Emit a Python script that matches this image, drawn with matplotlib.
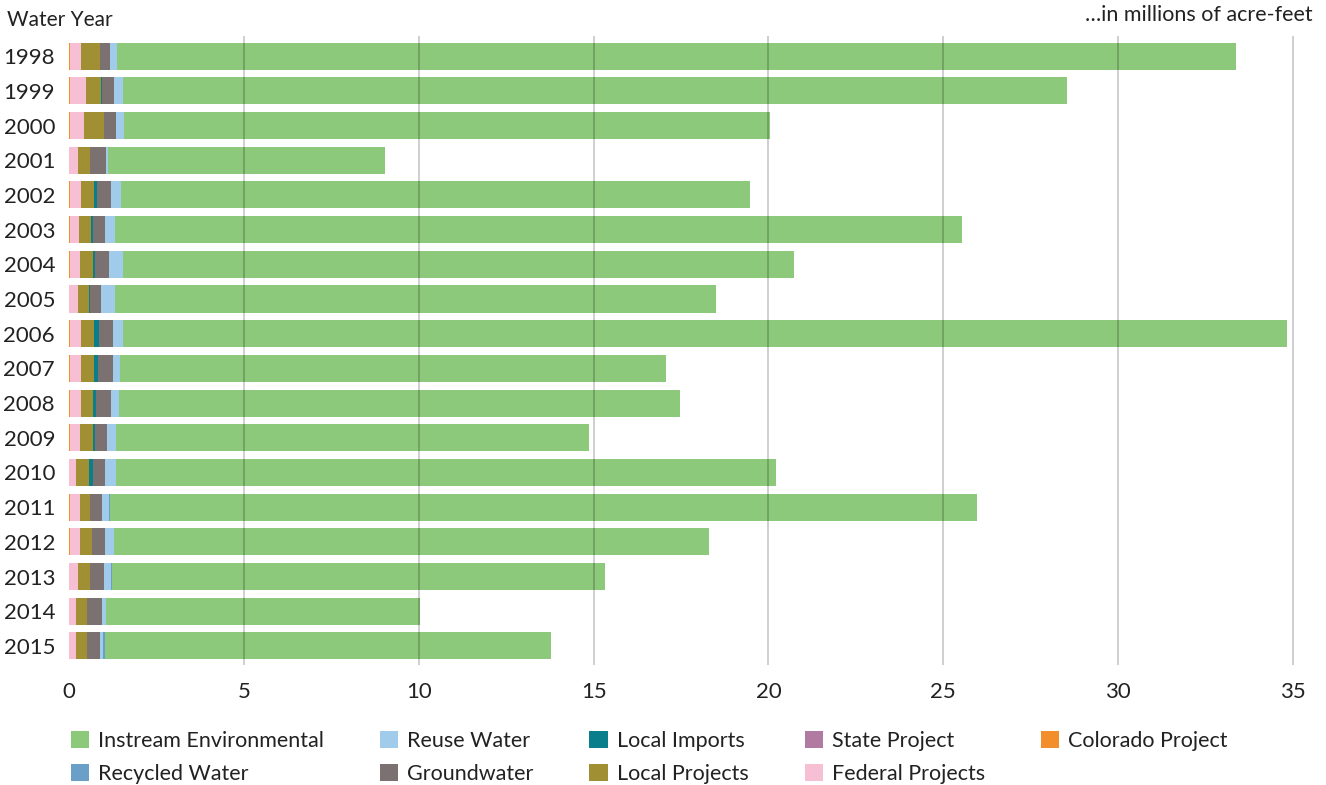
import matplotlib.pyplot as plt
import numpy as np

plt.rcParams['font.family'] = ['Lato', 'DejaVu Sans']

# 水年ごとのデータ（百万エーカーフィート）
years = [str(y) for y in range(1998, 2016)]
colorado = [0.03, 0.03, 0.03, 0.0, 0.03, 0.03, 0.03, 0.0, 0.03, 0.03,
            0.03, 0.03, 0.0, 0.03, 0.03, 0.0, 0.0, 0.0]
federal = [0.31, 0.46, 0.40, 0.26, 0.31, 0.26, 0.29, 0.26, 0.31, 0.31,
           0.31, 0.29, 0.20, 0.29, 0.29, 0.26, 0.20, 0.20]
state = [0.0] * 18
local_projects = [0.54, 0.43, 0.57, 0.34, 0.37, 0.34, 0.37, 0.31, 0.37, 0.37,
                  0.34, 0.37, 0.37, 0.29, 0.34, 0.34, 0.31, 0.31]
local_imports = [0.0, 0.03, 0.0, 0.0, 0.09, 0.06, 0.06, 0.03, 0.14, 0.11,
                 0.09, 0.06, 0.11, 0.0, 0.0, 0.0, 0.0, 0.0]
groundwater = [0.29, 0.34, 0.34, 0.46, 0.40, 0.34, 0.40, 0.31, 0.40, 0.43,
               0.43, 0.34, 0.34, 0.34, 0.37, 0.40, 0.43, 0.37]
reuse = [0.20, 0.26, 0.23, 0.06, 0.29, 0.29, 0.40, 0.40, 0.29, 0.20,
         0.23, 0.26, 0.31, 0.20, 0.26, 0.20, 0.11, 0.09]
recycled = [0.0, 0.0, 0.0, 0.0, 0.0, 0.0, 0.0, 0.0, 0.0, 0.0,
            0.0, 0.0, 0.0, 0.03, 0.0, 0.03, 0.0, 0.06]
instream = [32.00, 27.00, 18.48, 7.92, 17.98, 24.22, 19.19, 17.18, 33.29, 15.61,
            16.04, 13.53, 18.88, 24.77, 17.01, 14.10, 8.98, 12.75]

# 左から積み上げる順
series = [
    ("Colorado Project", colorado, "#f28e2b"),
    ("Federal Projects", federal, "#f6bfd4"),
    ("State Project", state, "#b07aa1"),
    ("Local Projects", local_projects, "#a08f33"),
    ("Local Imports", local_imports, "#0b7e8c"),
    ("Groundwater", groundwater, "#7b7170"),
    ("Reuse Water", reuse, "#a1cbea"),
    ("Recycled Water", recycled, "#6a9fc8"),
    ("Instream Environmental", instream, "#8dc97b"),
]

fig = plt.figure(figsize=(13.26, 7.85), dpi=100)
ax = fig.add_axes([69 / 1326, 1 - 665 / 785, 1252 / 1326, 629 / 785])

y = np.arange(len(years))
left = np.zeros(len(years))
handles = {}
for name, vals, color in series:
    vals = np.array(vals)
    bars = ax.barh(y, vals, left=left, height=0.78, color=color, linewidth=0, zorder=2)
    handles[name] = bars
    left += vals

ax.set_xlim(0, 35.8)
ax.set_ylim(len(years) - 0.45, -0.58)
ax.set_xticks(range(0, 36, 5))
ax.set_yticks(y)
ax.set_yticklabels(years)
ax.tick_params(axis="y", length=0, pad=10, labelsize=16, colors="#222222")
ax.tick_params(axis="x", length=0, pad=12, labelsize=16, colors="#222222")
for s in ax.spines.values():
    s.set_visible(False)

# グリッドはバーの上に半透明で
for v in range(5, 36, 5):
    ax.axvline(v, color="black", alpha=0.22, lw=1.2, zorder=3)

fig.text(7 / 1326, 1 - 20 / 785, "Water Year", fontsize=15, color="#222222", va="center", ha="left")
fig.text(1313 / 1326, 1 - 15 / 785, "…in millions of acre-feet", fontsize=15.5, color="#222222",
         va="center", ha="right")

# 凡例の順序（列優先）
legend_order = ["Instream Environmental", "Recycled Water", "Reuse Water", "Groundwater",
                "Local Imports", "Local Projects", "State Project", "Federal Projects",
                "Colorado Project"]
leg = fig.legend(
    handles=[handles[n] for n in legend_order],
    labels=legend_order,
    ncol=5,
    loc="upper left",
    bbox_to_anchor=(62 / 1326, 1 - 722 / 785),
    frameon=False,
    fontsize=15.5,
    handlelength=0.85,
    handleheight=0.85,
    handletextpad=0.42,
    columnspacing=2.6,
    labelspacing=0.6,
    borderaxespad=0,
)
for t in leg.get_texts():
    t.set_color("#222222")

fig.savefig("out.png", dpi=100)
